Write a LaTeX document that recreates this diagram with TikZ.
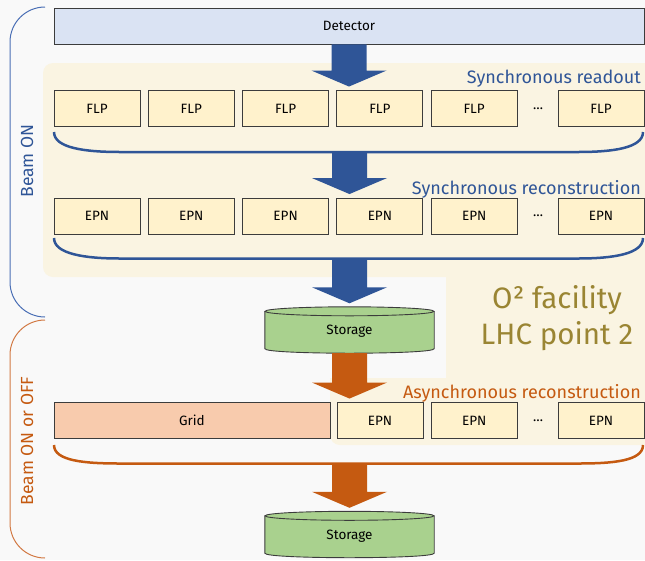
\documentclass[tikz,border=0pt]{standalone}
\usepackage{fontspec}
\setmainfont{Fira Sans}
\usetikzlibrary{calc}
\definecolor{bgc}{HTML}{F9F9F9}
\definecolor{beigec}{HTML}{FAF4E2}
\definecolor{boxc}{HTML}{FFF2CC}
\definecolor{detc}{HTML}{DAE3F3}
\definecolor{gridc}{HTML}{F8CBAD}
\definecolor{storc}{HTML}{A9D18E}
\definecolor{bluec}{HTML}{2F5597}
\definecolor{blueline}{HTML}{4A6FB5}
\definecolor{orngc}{HTML}{C55A11}
\definecolor{orngline}{HTML}{D27A45}
\definecolor{olivec}{HTML}{9A8533}
\definecolor{edgec}{HTML}{3C3C3C}
\newcommand\fatarrow[3]{%
  \path ($(#2 |- #3)+(0,-3.5)$) coordinate (fa-tip);
  \fill[#1] ($(#2)+(-17.5,0)$) -- ($(#2)+(17.5,0)$) -- ($(fa-tip)+(17.5,-16)$)
    -- ($(fa-tip)+(37.5,-16)$) -- (fa-tip) -- ($(fa-tip)+(-37.5,-16)$)
    -- ($(fa-tip)+(-17.5,-16)$) -- cycle;}
\newcommand\cylinderbody[1]{%
  \path ($(#1.north west)+(0,4.5)$) coordinate (cy-tl)
        ($(#1.north east)+(0,4.5)$) coordinate (cy-tr)
        ($(#1.south west)+(0,-4.5)$) coordinate (cy-bl)
        ($(#1.south east)+(0,-4.5)$) coordinate (cy-br)
        ($(#1.north)+(0,4.5)$) coordinate (cy-tc);
  \draw[cylline] (cy-tl) -- (cy-bl) .. controls ($(cy-bl)+(0,6)$) and ($(cy-br)+(0,6)$) .. (cy-br) -- (cy-tr);
  \draw[cylline] (cy-tc) ellipse [x radius=84.5, y radius=4.5];}
\begin{document}
\begin{tikzpicture}[x=1pt,y=-1pt,
  unitbox/.style={draw=edgec, line width=0.9pt, fill=boxc, minimum width=86pt,
    minimum height=36pt, inner sep=0pt, font=\fontsize{13.5}{15}\selectfont},
  dots/.style={inner sep=0pt, font=\fontsize{13.5}{15}\selectfont},
  storebox/.style={minimum width=169pt, minimum height=46pt, inner sep=0pt,
    font=\fontsize{13.5}{15}\selectfont},
  cylline/.style={draw=edgec, line width=0.9pt, fill=storc},
  bracebl/.style={draw=bluec, line width=2.5pt},
  braceor/.style={draw=orngc, line width=2.5pt},
  phase/.style={font=\fontsize{18}{20}\selectfont, anchor=east, inner sep=0pt},
  side/.style={font=\fontsize{17.5}{20}\selectfont, rotate=90, inner sep=0pt}]
\useasboundingbox (0,0) rectangle (645,560);
\fill[bgc] (0,0) rectangle (645,560);
% facility region
\fill[beigec, rounded corners=10pt] (43,63) rectangle (660,277);
\fill[beigec] (446,265) rectangle (660,390);
\fill[beigec, rounded corners=10pt] (330,378) rectangle (660,445);
\fill[beigec] (330,378) rectangle (400,400);
% left brackets
\draw[blueline, line width=1pt, rounded corners=35pt] (45,7) -- (10,7) -- (10,317) -- (45,317);
\draw[orngline, line width=1pt, rounded corners=35pt] (45,320) -- (10,320) -- (10,558) -- (45,558);
\node[side, text=bluec] (beamon) at (27,161) {Beam ON};
\node[side, text=orngc] (beamonoff) at (27,441) {Beam ON or OFF};
% detector
\node[unitbox, fill=detc, minimum width=590pt] (detector) at (349,26) {Detector};
% FLP row
\node[phase, text=bluec] (lab1) at (641,79) {Synchronous readout};
\foreach \i/\x in {1/97,2/191.3,3/285.6,4/379.9,5/474.2,6/601}
  \node[unitbox] (flp\i) at (\x,108.5) {FLP};
\node[dots] (flpdots) at (538,108.5) {…};
\draw[bracebl] (54,132) .. controls (54,148) and (85,152) .. (120,152) -- (578,152)
  .. controls (613,152) and (643,148) .. (643,132);
\coordinate (b1) at (349.5,152);
% EPN row
\node[phase, text=bluec] (lab2) at (641,189) {Synchronous reconstruction};
\foreach \i/\x in {1/97,2/191.3,3/285.6,4/379.9,5/474.2,6/601}
  \node[unitbox] (epn\i) at (\x,216) {EPN};
\node[dots] (epndots) at (538,216) {…};
\draw[bracebl] (54,238) .. controls (54,254) and (85,258.5) .. (120,258.5) -- (578,258.5)
  .. controls (613,258.5) and (643,254) .. (643,238);
\coordinate (b2) at (349.5,258.5);
% storage A
\node[storebox] (storageA) at (349.5,330) {};
\cylinderbody{storageA}
\node[storebox] (storageAtext) at (349.5,331) {Storage};
% facility label
\node[text=olivec, align=center, font=\fontsize{29.5}{36}\selectfont, inner sep=0pt] (fac) at (557,318) {O² facility\\LHC point 2};
% async row
\node[phase, text=orngc] (lab3) at (641,393) {Asynchronous reconstruction};
\node[unitbox, fill=gridc, minimum width=276pt] (grid) at (192,420.5) {Grid};
\foreach \i/\x in {1/380,2/474.2,3/601}
  \node[unitbox] (epnc\i) at (\x,420.5) {EPN};
\node[dots] (epncdots) at (538,420.5) {…};
\draw[braceor] (54,445) .. controls (54,461) and (85,463.5) .. (120,463.5) -- (578,463.5)
  .. controls (613,463.5) and (643,461) .. (643,445);
\coordinate (b3) at (349.5,463.5);
% storage B
\node[storebox] (storageB) at (349.5,534.5) {};
\cylinderbody{storageB}
\node[storebox] (storageBtext) at (349.5,536) {Storage};
% arrows
\fatarrow{bluec}{detector.south}{flp4.north}
\fatarrow{bluec}{b1}{epn4.north}
\fatarrow{bluec}{b2}{storageA.north}
\fatarrow{orngc}{storageA.south}{epnc1.north}
\fatarrow{orngc}{b3}{storageB.north}
\end{tikzpicture}
\end{document}
